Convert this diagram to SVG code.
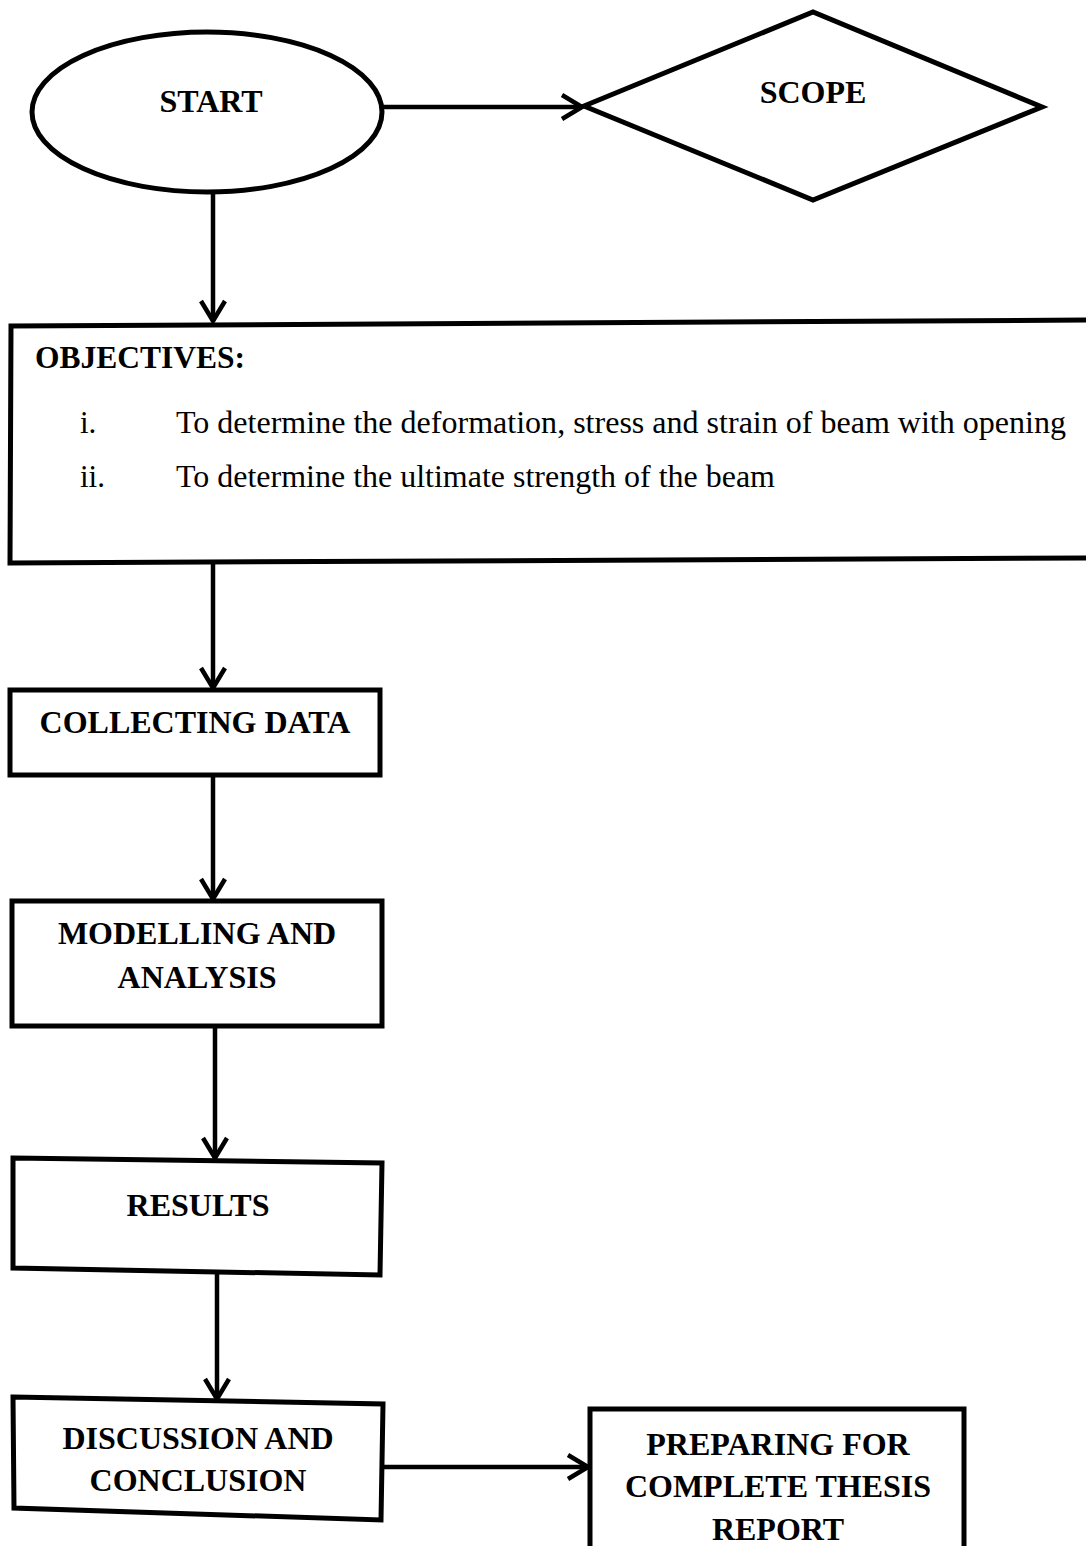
<svg xmlns="http://www.w3.org/2000/svg" width="1086" height="1546" viewBox="0 0 1086 1546">
<style>
.shape{fill:#fff;stroke:#000;stroke-width:5;stroke-linejoin:miter}
.conn{fill:none;stroke:#000;stroke-width:4.5}
.t{font-family:"Liberation Serif","Times New Roman",serif;font-weight:bold;font-size:32px;fill:#000;text-anchor:middle}
.r{font-family:"Liberation Serif","Times New Roman",serif;font-size:31px;fill:#000}
</style>
<defs>
<marker id="arr" markerUnits="userSpaceOnUse" viewBox="-24 -16 28 32" refX="0" refY="0" markerWidth="28" markerHeight="32" orient="auto">
<path d="M-20,-12 L0,0 L-20,12" fill="none" stroke="#000" stroke-width="4.5" stroke-linejoin="miter"/>
</marker>
</defs>
<rect width="1086" height="1546" fill="#fff"/>
<g id="start">
<ellipse class="shape" cx="207" cy="112" rx="175" ry="80"/>
<text class="t" x="211" y="112">START</text>
</g>
<g id="scope">
<polygon class="shape" points="584,106 813,12 1042,107 813,200"/>
<text class="t" x="813" y="103">SCOPE</text>
</g>
<g id="objectives">
<polygon class="shape" points="11,326 1092,320 1092,558 10,563"/>
<text class="r" x="35" y="368" font-weight="bold" textLength="210" lengthAdjust="spacingAndGlyphs">OBJECTIVES:</text>
<text class="r" x="80" y="433">i.</text>
<text class="r" x="176" y="433" textLength="890" lengthAdjust="spacingAndGlyphs">To determine the deformation, stress and strain of beam with opening</text>
<text class="r" x="80" y="487">ii.</text>
<text class="r" x="176" y="487" textLength="599" lengthAdjust="spacingAndGlyphs">To determine the ultimate strength of the beam</text>
</g>
<g id="collecting">
<rect class="shape" x="10" y="690" width="370" height="85"/>
<text class="t" x="195" y="733">COLLECTING DATA</text>
</g>
<g id="modelling">
<rect class="shape" x="12" y="901" width="370" height="125"/>
<text class="t" x="197" y="944">MODELLING AND</text>
<text class="t" x="197" y="988">ANALYSIS</text>
</g>
<g id="results">
<polygon class="shape" points="13,1158 382,1163 380,1275 13,1268"/>
<text class="t" x="198" y="1216">RESULTS</text>
</g>
<g id="discussion">
<polygon class="shape" points="13,1397 383,1404 381,1520 14,1508"/>
<text class="t" x="198" y="1449">DISCUSSION AND</text>
<text class="t" x="198" y="1491">CONCLUSION</text>
</g>
<g id="preparing">
<rect class="shape" x="590" y="1409" width="374" height="160"/>
<text class="t" x="778" y="1455">PREPARING FOR</text>
<text class="t" x="778" y="1497">COMPLETE THESIS</text>
<text class="t" x="778" y="1540">REPORT</text>
</g>
<g id="connectors">
<line class="conn" x1="382" y1="107" x2="582" y2="107" marker-end="url(#arr)"/>
<line class="conn" x1="213" y1="192" x2="213" y2="321" marker-end="url(#arr)"/>
<line class="conn" x1="213" y1="563" x2="213" y2="688" marker-end="url(#arr)"/>
<line class="conn" x1="213" y1="775" x2="213" y2="899" marker-end="url(#arr)"/>
<line class="conn" x1="215" y1="1026" x2="215" y2="1158" marker-end="url(#arr)"/>
<line class="conn" x1="217" y1="1272" x2="217" y2="1399" marker-end="url(#arr)"/>
<line class="conn" x1="382" y1="1467" x2="588" y2="1467" marker-end="url(#arr)"/>
</g>
</svg>
